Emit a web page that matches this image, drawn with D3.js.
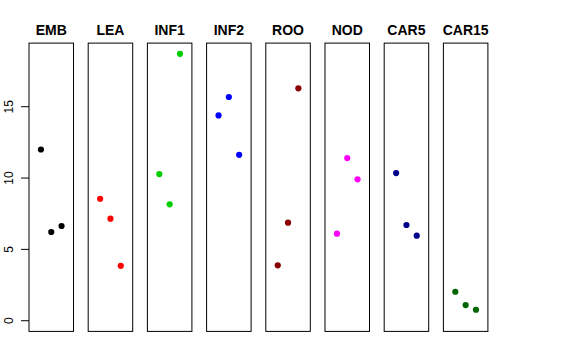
<!DOCTYPE html>
<html>
<head>
<meta charset="utf-8">
<script src="https://cdn.jsdelivr.net/npm/d3@7"></script>
<style>
  html, body { margin: 0; padding: 0; background: #fff; }
  svg { display: block; }
</style>
</head>
<body>
<div id="chart"></div>
<script>
const categories = ["EMB", "LEA", "INF1", "INF2", "ROO", "NOD", "CAR5", "CAR15"];
const colors = ["#000000", "#FF0000", "#00CD00", "#0000FF", "#8B0000", "#FF00FF", "#00008B", "#006400"];
const positions = [1, 2, 3];
const values = [
  [12.0, 6.22, 6.64],
  [8.55, 7.15, 3.85],
  [10.28, 8.16, 18.71],
  [14.39, 15.68, 11.63],
  [3.88, 6.87, 16.29],
  [6.10, 11.40, 9.91],
  [10.35, 6.71, 5.96],
  [2.03, 1.10, 0.77]
];
const yTicks = [0, 5, 10, 15];

const W = 576, H = 360;
const svg = d3.select("#chart").append("svg")
  .attr("width", W).attr("height", H)
  .attr("font-family", "Liberation Sans, Arial, Helvetica, sans-serif");

const band = d3.scaleBand().domain(categories)
  .range([29, 487.9]).paddingInner(0.248).paddingOuter(0);

const ymax = d3.max(values.flat());
const ext = ymax * 0.04;
const y = d3.scaleLinear().domain([0 - ext, ymax + ext]).range([331.4, 43.1]);
const x = d3.scaleLinear().domain([0 - 0.16, 4 + 0.16]).range([0, band.bandwidth()]);

categories.forEach((c, i) => {
  const g = svg.append("g").attr("transform", `translate(${band(c)},0)`);
  const [y0, y1] = y.range();
  g.append("rect")
    .attr("x", 0).attr("y", y1)
    .attr("width", band.bandwidth()).attr("height", y0 - y1)
    .attr("fill", "none").attr("stroke", "#000").attr("stroke-width", 1);
  g.selectAll("circle").data(values[i]).enter().append("circle")
    .attr("cx", (d, j) => x(positions[j]))
    .attr("cy", d => y(d))
    .attr("r", 3.1)
    .attr("fill", colors[i]);
  g.append("text")
    .attr("x", band.bandwidth() / 2).attr("y", 34.5)
    .attr("text-anchor", "middle")
    .attr("font-weight", "bold").attr("font-size", 14)
    .text(c);
});

// y axis on first panel
const axisX = band(categories[0]);
const ax = svg.append("g");
ax.selectAll("line").data(yTicks).enter().append("line")
  .attr("x1", axisX - 8).attr("x2", axisX)
  .attr("y1", d => y(d)).attr("y2", d => y(d))
  .attr("stroke", "#000");
ax.selectAll("text").data(yTicks).enter().append("text")
  .attr("transform", d => `translate(12.7,${y(d)}) rotate(-90)`)
  .attr("text-anchor", "middle")
  .attr("font-size", 12)
  .text(d => d);
</script>
</body>
</html>
